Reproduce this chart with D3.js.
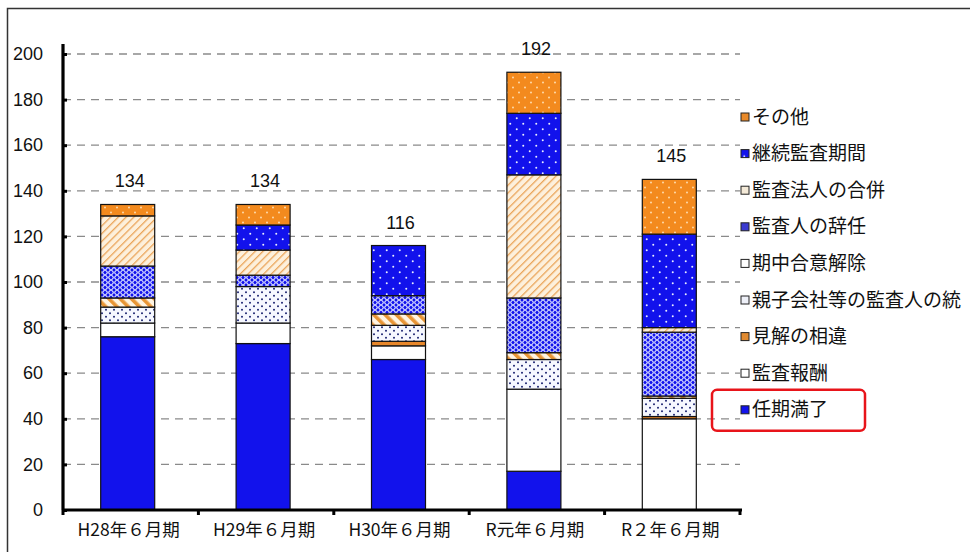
<!DOCTYPE html>
<html>
<head>
<meta charset="utf-8">
<script src="https://cdn.jsdelivr.net/npm/d3@7"></script>
<style>
  body { margin: 0; background: #fff; }
  .num { font-family: "Liberation Sans", Arial, sans-serif; }
  .jp { font-family: "Noto Sans CJK JP", "Noto Sans", sans-serif; }
</style>
</head>
<body>
<svg id="chart" width="970" height="552"></svg>
<script>
// Fiscal periods (June year-ends)
const categories = ["H28年６月期", "H29年６月期", "H30年６月期", "R元年６月期", "R２年６月期"];

// Number of auditor changes by reason, one array per reason (bottom of stack first)
const termExpiry   = [76, 73, 66, 17, 0];   // 任期満了
const auditFee     = [6, 9, 6, 36, 40];     // 監査報酬
const opinionDiff  = [0, 0, 2, 0, 1];       // 見解の相違
const groupUnify   = [7, 16, 7, 13, 8];     // 親子会社等の監査人の統一
const mutualCancel = [4, 0, 5, 3, 1];       // 期中合意解除
const resignation  = [14, 5, 8, 24, 28];    // 監査人の辞任
const firmMerger   = [22, 11, 0, 54, 2];    // 監査法人の合併
const longTenure   = [0, 11, 22, 27, 41];   // 継続監査期間
const otherReason  = [5, 9, 0, 18, 24];     // その他

const seriesKeys = ["任期満了", "監査報酬", "見解の相違", "親子会社等の監査人の統", "期中合意解除",
                    "監査人の辞任", "監査法人の合併", "継続監査期間", "その他"];
const seriesValues = [termExpiry, auditFee, opinionDiff, groupUnify, mutualCancel,
                      resignation, firmMerger, longTenure, otherReason];

const yTicks = [0, 20, 40, 60, 80, 100, 120, 140, 160, 180, 200];

// table for d3.stack
const table = categories.map((c, i) => {
  const row = { cat: c };
  seriesKeys.forEach((k, j) => { row[k] = seriesValues[j][i]; });
  return row;
});
const totals = categories.map((c, i) => d3.sum(seriesValues, s => s[i]));

const svg = d3.select("#chart");
const defs = svg.append("defs");

const BLUE = "#1212ec";
const ORANGE = "#f38a1e";

// ---- fill patterns ----
function dotPattern(id, bg, dot, w, h, r) {
  const p = defs.append("pattern").attr("id", id).attr("patternUnits", "userSpaceOnUse")
    .attr("width", w).attr("height", h);
  p.append("rect").attr("width", w).attr("height", h).attr("fill", bg);
  [[w * 0.25, h * 0.25], [w * 0.75, h * 0.75]].forEach(([cx, cy]) =>
    p.append("circle").attr("cx", cx).attr("cy", cy).attr("r", r).attr("fill", dot));
}
dotPattern("p-other", ORANGE, "#ffe2b8", 12, 10, 0.9);
dotPattern("p-tenure", BLUE, "#e8ecff", 13, 11, 1.0);
dotPattern("p-group", "#f6f8ff", "#1c2470", 8, 7, 1.0);

// white circle lattice on blue
(function () {
  const p = defs.append("pattern").attr("id", "p-resign").attr("patternUnits", "userSpaceOnUse")
    .attr("width", 6).attr("height", 5);
  p.append("rect").attr("width", 6).attr("height", 5).attr("fill", BLUE);
  [[0, 0], [6, 0], [0, 5], [6, 5], [3, 2.5]].forEach(([cx, cy]) =>
    p.append("circle").attr("cx", cx).attr("cy", cy).attr("r", 2.2)
      .attr("fill", "none").attr("stroke", "#d8dcff").attr("stroke-width", 0.8));
})();

// thin orange hatch on peach
(function () {
  const p = defs.append("pattern").attr("id", "p-merger").attr("patternUnits", "userSpaceOnUse")
    .attr("width", 5.5).attr("height", 5.5).attr("patternTransform", "rotate(45)");
  p.append("rect").attr("width", 5.5).attr("height", 5.5).attr("fill", "#fdf0dc");
  p.append("rect").attr("x", 0).attr("width", 1.3).attr("height", 5.5).attr("fill", "#eaa55a");
})();

// broad orange stripes
(function () {
  const p = defs.append("pattern").attr("id", "p-cancel").attr("patternUnits", "userSpaceOnUse")
    .attr("width", 8).attr("height", 8).attr("patternTransform", "rotate(-45)");
  p.append("rect").attr("width", 8).attr("height", 8).attr("fill", "#fff4e2");
  p.append("rect").attr("x", 0).attr("width", 3.6).attr("height", 8).attr("fill", "#e89535");
})();

const fills = {
  "任期満了": BLUE,
  "監査報酬": "#ffffff",
  "見解の相違": "#e8872a",
  "親子会社等の監査人の統": "url(#p-group)",
  "期中合意解除": "url(#p-cancel)",
  "監査人の辞任": "url(#p-resign)",
  "監査法人の合併": "url(#p-merger)",
  "継続監査期間": "url(#p-tenure)",
  "その他": "url(#p-other)"
};
const legendFills = Object.assign({}, fills, {
  "期中合意解除": "#ffffff",
  "親子会社等の監査人の統": "#eef0f8",
  "監査法人の合併": "#f4ead8",
  "監査人の辞任": "#3a3ad0",
  "その他": "#e98a2a",
  "見解の相違": "#e08a30"
});

// ---- frame ----
svg.append("path").attr("d", "M7.5,560 V8.5 H975")
  .attr("fill", "none").attr("stroke", "#333").attr("stroke-width", 1.5);

// ---- scales ----
const plotL = 63, plotR = 740, plotB = 510, plotT = 54;
const x = d3.scaleBand().domain(categories).range([plotL, plotR]).padding(0);
const y = d3.scaleLinear().domain([0, 200]).range([plotB, plotT]);
const barW = 54;

// gridlines
svg.append("g").selectAll("line").data(yTicks.filter(t => t > 0)).join("line")
  .attr("x1", plotL).attr("x2", plotR)
  .attr("y1", d => y(d)).attr("y2", d => y(d))
  .attr("stroke", "#8a8a8a").attr("stroke-width", 1.3).attr("stroke-dasharray", "8,6");

// stacked bars
const stacked = d3.stack().keys(seriesKeys)(table);
const barX = c => x(c) + (x.bandwidth() - barW) / 2 - 3;

svg.append("g").selectAll("g").data(stacked).join("g")
  .attr("fill", d => fills[d.key])
  .selectAll("rect").data(d => d.filter(s => s[1] - s[0] > 0)).join("rect")
  .attr("x", d => barX(d.data.cat))
  .attr("width", barW)
  .attr("y", d => y(d[1]))
  .attr("height", d => y(d[0]) - y(d[1]))
  .attr("stroke", "#111").attr("stroke-width", 1.2);

// totals above bars
svg.append("g").selectAll("text").data(categories).join("text")
  .attr("class", "num")
  .attr("x", (c) => barX(c) + barW / 2 + 2)
  .attr("y", (c, i) => y(totals[i]) - 17)
  .attr("text-anchor", "middle")
  .attr("font-size", 18).attr("fill", "#111")
  .text((c, i) => totals[i]);

// y axis
const yAxis = svg.append("g").attr("transform", `translate(${plotL},0)`)
  .call(d3.axisLeft(y).tickValues(yTicks).tickSize(-4).tickPadding(20));
yAxis.select(".domain").attr("stroke", "#000").attr("stroke-width", 3.2)
  .attr("d", `M0,${plotB} V${plotT - 10}`);
yAxis.selectAll(".tick line").attr("stroke", "#000").attr("stroke-width", 3);
yAxis.selectAll(".tick text").attr("class", "num").attr("font-size", 18).attr("fill", "#111");

// x axis
const xAxis = svg.append("g").attr("transform", `translate(0,${plotB})`)
  .call(d3.axisBottom(x).tickSize(0).tickPadding(14));
xAxis.select(".domain").attr("stroke", "#000").attr("stroke-width", 3.2)
  .attr("d", `M${plotL},0 H${plotR + 2}`);
xAxis.selectAll(".tick text").attr("class", "jp").attr("font-size", 17.5).attr("fill", "#111")
  .attr("dx", -2);
const bounds = categories.map(c => x(c)).concat([plotR]);
xAxis.append("g").selectAll("line").data(bounds).join("line")
  .attr("x1", d => d).attr("x2", d => d).attr("y1", 0).attr("y2", 5)
  .attr("stroke", "#000").attr("stroke-width", 3);

// legend (top entry is the top of the stack)
const legendKeys = seriesKeys.slice().reverse();
const legend = svg.append("g").attr("transform", "translate(741,117)");
const rowH = 36.6;
const item = legend.selectAll("g").data(legendKeys).join("g")
  .attr("transform", (d, i) => `translate(0,${i * rowH})`);
item.append("rect").attr("x", 0).attr("y", -4).attr("width", 8).attr("height", 8)
  .attr("fill", d => legendFills[d]).attr("stroke", "#222").attr("stroke-width", 1);
item.append("text").attr("class", "jp").attr("x", 11).attr("y", 0).attr("dy", "0.35em")
  .attr("font-size", 19).attr("fill", "#111").text(d => d);

// highlight box around 任期満了
const hlIndex = legendKeys.indexOf("任期満了");
svg.append("rect")
  .attr("x", 712).attr("y", 117 + hlIndex * rowH - 20)
  .attr("width", 153).attr("height", 41).attr("rx", 5)
  .attr("fill", "none").attr("stroke", "#e8141a").attr("stroke-width", 2.5);
</script>
</body>
</html>
